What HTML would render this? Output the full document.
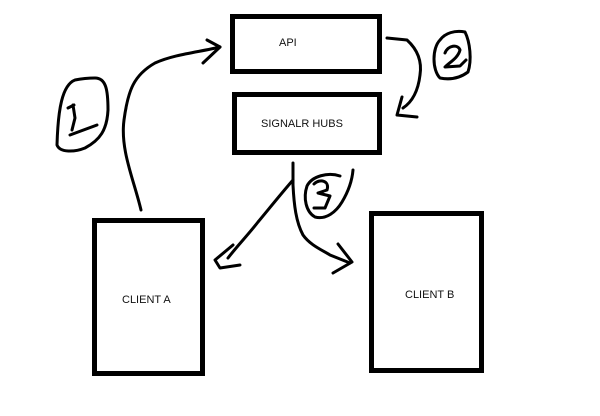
<!DOCTYPE html>
<html><head><meta charset="utf-8"><style>
html,body{margin:0;padding:0;background:#fff;width:600px;height:416px;overflow:hidden}
.b{position:absolute;border:5px solid #000;box-sizing:border-box;background:#fff}
.t{position:absolute;font-family:"Liberation Sans",sans-serif;font-size:11px;color:#111;white-space:nowrap;line-height:12px}
svg{position:absolute;left:0;top:0}
</style></head><body>
<div class="b" style="left:230px;top:14px;width:152px;height:60px"></div>
<div class="b" style="left:232px;top:92px;width:150px;height:63px"></div>
<div class="b" style="left:92px;top:218px;width:113px;height:158px"></div>
<div class="b" style="left:369px;top:211px;width:115px;height:162px"></div>
<div class="t" style="left:279px;top:37px">API</div>
<div class="t" style="left:261px;top:118px">SIGNALR HUBS</div>
<div class="t" style="left:122px;top:294px">CLIENT A</div>
<div class="t" style="left:405px;top:289px">CLIENT B</div>
<svg width="600" height="416" fill="none" stroke="#000" stroke-width="3" stroke-linecap="round" stroke-linejoin="round">
<path d="M141,210 C134,180 120,150 124,120 C128,90 134,75 155,63 C175,54 200,52 220,47"/>
<path d="M207,40 L220,47 L203,63"/>
<path d="M75,80 C62,85 58,110 57,145 C60,153 75,152 85,148 C100,140 107,130 108,110 C108,90 106,78 95,78 C85,78 75,80 75,80"/>
<path d="M73,105 L75,118 L72,130 M70,135 L97,125 M68,108 L74,105"/>
<path d="M387,38 L407,40 C418,50 422,62 420,75 C418,92 412,102 403,108"/>
<path d="M402,97 L397,115 L417,117"/>
<path d="M440,40 C432,48 432,70 440,78 C450,80 460,78 468,72 C472,60 470,42 465,32 C455,30 445,33 440,40"/>
<path d="M445,53 C448,45 458,44 460,50 C458,58 450,62 445,67 L460,66 L466,60"/>
<path d="M293,163 L293,185 C294,205 296,222 303,235 C310,245 322,250 330,255 L350,263"/>
<path d="M293,180 C280,195 268,210 258,222 C248,235 238,245 228,258"/>
<path d="M233,245 L215,260 L220,268 L240,265"/>
<path d="M338,244 L352,262 L333,273"/>
<path d="M340,176 C328,172 312,176 307,186 C303,198 306,212 315,217 C326,220 336,212 342,202 C348,192 352,182 353,170"/>
<path d="M314,184 C320,178 330,181 327,190 L318,193 L330,196 L325,208 L314,208"/>
</svg>
</body></html>
